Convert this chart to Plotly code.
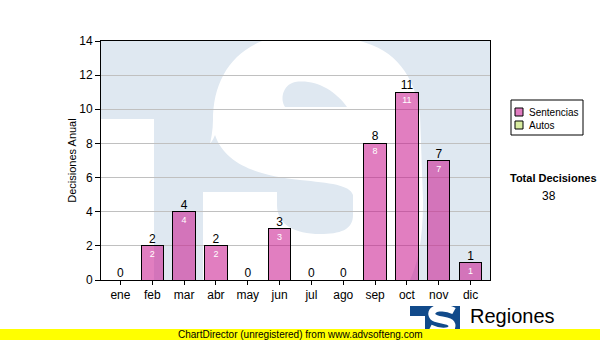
import re
import plotly.graph_objects as go

# ---------------- data ----------------
months = ["ene", "feb", "mar", "abr", "may", "jun", "jul", "ago", "sep", "oct", "nov", "dic"]
sentencias = [0, 2, 4, 2, 0, 3, 0, 0, 8, 11, 7, 1]
autos = [0, 0, 0, 0, 0, 0, 0, 0, 0, 0, 0, 0]
y_ticks = [0, 2, 4, 6, 8, 10, 12, 14]
series_names = ["Sentencias", "Autos"]
total = sum(sentencias) + sum(autos)

# ---------------- styling ----------------
FONT = "Liberation Sans, Arial, sans-serif"
PINK = "rgba(200,20,140,0.55)"
PINK_SW = "#e07cc0"
GREEN_SW = "#d8eca0"
BG_BLUE = "#dfe8f1"
W, H = 600, 340
L, R, T, B = 101, 490, 41, 280  # plot area in pixels


def px(x):
    return (x - L) / (R - L)


def py(y):
    return (B - y) / (B - T)


def path(spec):
    toks = re.findall(r"[A-Za-z]|-?\d+\.?\d*", spec)
    out, nums = [], []
    for t in toks:
        if t.isalpha():
            out.append(t)
        else:
            nums.append(float(t))
            if len(nums) == 2:
                out.append(f"{px(nums[0]):.4f},{py(nums[1]):.4f}")
                nums = []
    return " ".join(out)


def rect(x0, y0, x1, y1, color, layer="below", line=None):
    d = dict(type="rect", xref="paper", yref="paper",
             x0=px(x0), x1=px(x1), y0=py(y1), y1=py(y0),
             fillcolor=color, layer=layer, line=dict(width=0))
    if line:
        d["line"] = line
    return d


def pshape(spec, color, layer="below"):
    return dict(type="path", xref="paper", yref="paper", path=path(spec),
                fillcolor=color, line=dict(width=0), layer=layer)


shapes = []
# watermark (TS logo) inside plot area
shapes.append(rect(L, 119, 154, B, "white"))
shapes.append(pshape(
    "M 262 41 L 360 41 C 395 50 415 75 420 115 L 423 200 C 423 240 418 262 410 280 "
    "L 203 280 L 203 185 C 205 160 213 140 213 120 C 213 85 228 55 262 41 Z", "white"))
shapes.append(pshape("M 285 107 C 280 100 282 85 295 82 C 315 79 335 90 347 107 Z", BG_BLUE))
shapes.append(pshape(
    "M 203 192 L 203 150 C 209 146 213 141 215 135 C 225 165 260 176 300 180 "
    "C 330 183 350 185 353 195 L 353 215 C 353 230 340 234 320 234 "
    "C 295 234 277 225 277 205 L 277 192 Z", BG_BLUE))

# legend box (drawn by hand to match the compact original)
shapes.append(rect(511, 100, 583, 135, "rgba(0,0,0,0)", layer="above",
                   line=dict(color="black", width=1)))
shapes.append(rect(515, 108, 523, 116, PINK_SW, layer="above",
                   line=dict(color="black", width=1)))
shapes.append(rect(515, 121, 523, 129, GREEN_SW, layer="above",
                   line=dict(color="black", width=1)))

# bottom logo
shapes.append(rect(410, 306, 460, 332, "#114a8a", layer="above"))
shapes.append(rect(410, 316, 425, 332, "white", layer="above"))
shapes.append(dict(type="path", xref="paper", yref="paper", layer="above",
                   path=path("M 454 311 C 445 306 430 307 432 315 C 434 322 452 318 452 326 "
                             "C 452 333 438 332 430 328"),
                   line=dict(color="white", width=7)))
# yellow band
shapes.append(rect(0, 329, 600, 340, "#ffff00", layer="above"))

annotations = [
    dict(text=series_names[0], x=px(527), y=py(112), xref="paper", yref="paper",
         xanchor="left", yanchor="middle", showarrow=False, font=dict(size=10, color="black")),
    dict(text=series_names[1], x=px(527), y=py(125), xref="paper", yref="paper",
         xanchor="left", yanchor="middle", showarrow=False, font=dict(size=10, color="black")),
    dict(text="<b>Total Decisiones</b>", x=px(553), y=py(178), xref="paper", yref="paper",
         xanchor="center", yanchor="middle", showarrow=False, font=dict(size=11, color="black")),
    dict(text=str(total), x=px(549), y=py(196), xref="paper", yref="paper",
         xanchor="center", yanchor="middle", showarrow=False, font=dict(size=12, color="black")),
    dict(text="Regiones", x=px(468), y=py(316), xref="paper", yref="paper",
         xanchor="left", yanchor="middle", showarrow=False, font=dict(size=20, color="black")),
    dict(text="ChartDirector (unregistered) from www.advsofteng.com", x=px(300), y=py(334.5),
         xref="paper", yref="paper", xanchor="center", yanchor="middle", showarrow=False,
         font=dict(size=10, color="black")),
]

fig = go.Figure()
fig.add_trace(go.Bar(
    x=months, y=sentencias, name=series_names[0], width=0.7,
    marker=dict(color=PINK, line=dict(color="black", width=1)),
    text=[str(v) if v else "" for v in sentencias], textposition="inside",
    insidetextanchor="end", textangle=0,
    textfont=dict(size=9, color="white", family=FONT), showlegend=False,
))
fig.add_trace(go.Bar(
    x=months, y=[v if v else None for v in autos], name=series_names[1], width=0.7,
    marker=dict(color=GREEN_SW, line=dict(color="black", width=1)), showlegend=False,
))
totals = [s + a for s, a in zip(sentencias, autos)]
fig.add_trace(go.Scatter(
    x=months, y=totals, mode="text", text=[str(v) for v in totals],
    textposition="top center", textfont=dict(size=12, color="black", family=FONT),
    showlegend=False, cliponaxis=False, hoverinfo="skip",
))

fig.update_layout(
    width=W, height=H, barmode="stack",
    margin=dict(l=L, r=W - R, t=T, b=H - B, pad=0),
    paper_bgcolor="white", plot_bgcolor=BG_BLUE,
    font=dict(family=FONT, size=12, color="black"),
    shapes=shapes, annotations=annotations, showlegend=False,
)
fig.update_xaxes(
    type="category", showline=True, linecolor="black", linewidth=1, mirror=True,
    ticks="outside", ticklen=4, tickcolor="black", showgrid=False,
    tickfont=dict(size=12, color="black"),
)
fig.update_yaxes(
    range=[0, 14], tickvals=y_ticks, showline=True, linecolor="black", linewidth=1,
    mirror=True, ticks="outside", ticklen=5, tickcolor="black",
    showgrid=True, gridcolor="#c0c0c0", gridwidth=1, zeroline=False,
    tickfont=dict(size=12, color="black"),
    title=dict(text="Decisiones Anual", font=dict(size=11, color="black"), standoff=0),
)
fig.write_html("out.html")
